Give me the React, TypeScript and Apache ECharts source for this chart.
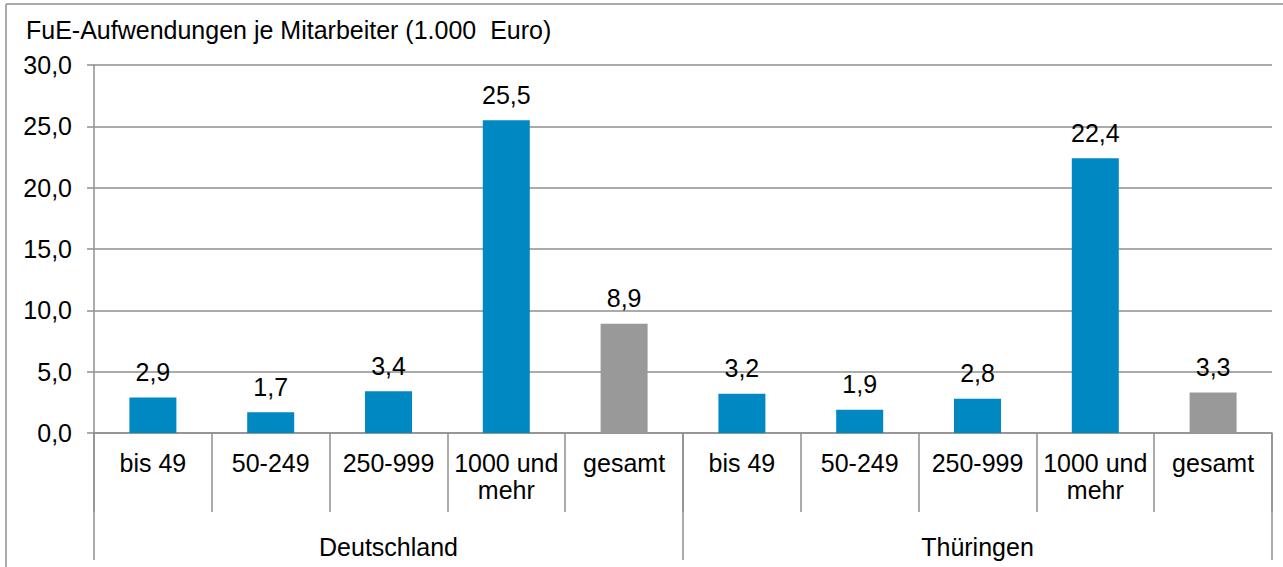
import React, { useEffect, useRef } from "react";
import * as echarts from "echarts";

const categories = [
  "bis 49", "50-249", "250-999", "1000 und\nmehr", "gesamt",
  "bis 49", "50-249", "250-999", "1000 und\nmehr", "gesamt",
];
const groups = ["Deutschland", "Thüringen"];
const values = [2.9, 1.7, 3.4, 25.5, 8.9, 3.2, 1.9, 2.8, 22.4, 3.3];
const isTotal = [false, false, false, false, true, false, false, false, false, true];
const title = "FuE-Aufwendungen je Mitarbeiter (1.000  Euro)";

const BLUE = "#0088c2";
const GREY = "#999999";
const LINE = "#8f8f8f";
const FONT = "'Liberation Sans', Arial, sans-serif";
const FS = 25;

export default function App() {
  const ref = useRef<HTMLDivElement>(null);
  useEffect(() => {
    if (!ref.current) return;
    const chart = echarts.init(ref.current, undefined, { renderer: "svg" });
    const fmt = (v: number) => v.toFixed(1).replace(".", ",");
    chart.setOption({
      animation: false,
      backgroundColor: "#ffffff",
      textStyle: { fontFamily: FONT },
      title: {
        text: title,
        left: 21,
        top: 12,
        textStyle: { fontFamily: FONT, fontSize: 25, fontWeight: "normal", color: "#000" },
      },
      graphic: [
        { type: "line", shape: { x1: 6, y1: 4, x2: 1283, y2: 4 }, style: { stroke: LINE, lineWidth: 1.5 } },
        { type: "line", shape: { x1: 6, y1: 4, x2: 6, y2: 567 }, style: { stroke: LINE, lineWidth: 1.5 } },
      ],
      grid: { left: 94, right: 11, top: 65, bottom: 134 },
      xAxis: [
        {
          type: "category",
          data: categories,
          position: "bottom",
          axisLine: { show: true, lineStyle: { color: LINE, width: 1.5 } },
          axisTick: { show: true, interval: 0, length: 79, lineStyle: { color: LINE, width: 1.5 } },
          axisLabel: {
            interval: 0,
            margin: 16,
            fontFamily: FONT,
            fontSize: FS,
            color: "#000",
            lineHeight: 27,
          },
        },
        {
          type: "category",
          data: groups,
          position: "bottom",
          axisLine: { show: false },
          axisTick: { show: true, interval: 0, length: 127, lineStyle: { color: LINE, width: 1.5 } },
          axisLabel: { interval: 0, margin: 101, fontFamily: FONT, fontSize: FS, color: "#000" },
        },
      ],
      yAxis: {
        type: "value",
        min: 0,
        max: 30,
        interval: 5,
        axisLine: { show: true, lineStyle: { color: LINE, width: 1.5 } },
        axisTick: { show: true, length: 7, lineStyle: { color: LINE, width: 1.5 } },
        splitLine: { show: true, lineStyle: { color: LINE, width: 1.5 } },
        axisLabel: {
          margin: 22,
          fontFamily: FONT,
          fontSize: FS,
          color: "#000",
          formatter: (v: number) => fmt(v),
        },
      },
      series: [
        {
          type: "bar",
          xAxisIndex: 0,
          barWidth: 47,
          data: values.map((v, i) => ({
            value: v,
            itemStyle: { color: isTotal[i] ? GREY : BLUE },
          })),
          label: {
            show: true,
            position: "top",
            distance: 13,
            fontFamily: FONT,
            fontSize: FS,
            color: "#000",
            formatter: (p: any) => fmt(p.value),
          },
        },
      ],
    });
    return () => chart.dispose();
  }, []);
  return <div ref={ref} style={{ width: 1283, height: 567, position: "absolute", left: 0, top: 0 }} />;
}
